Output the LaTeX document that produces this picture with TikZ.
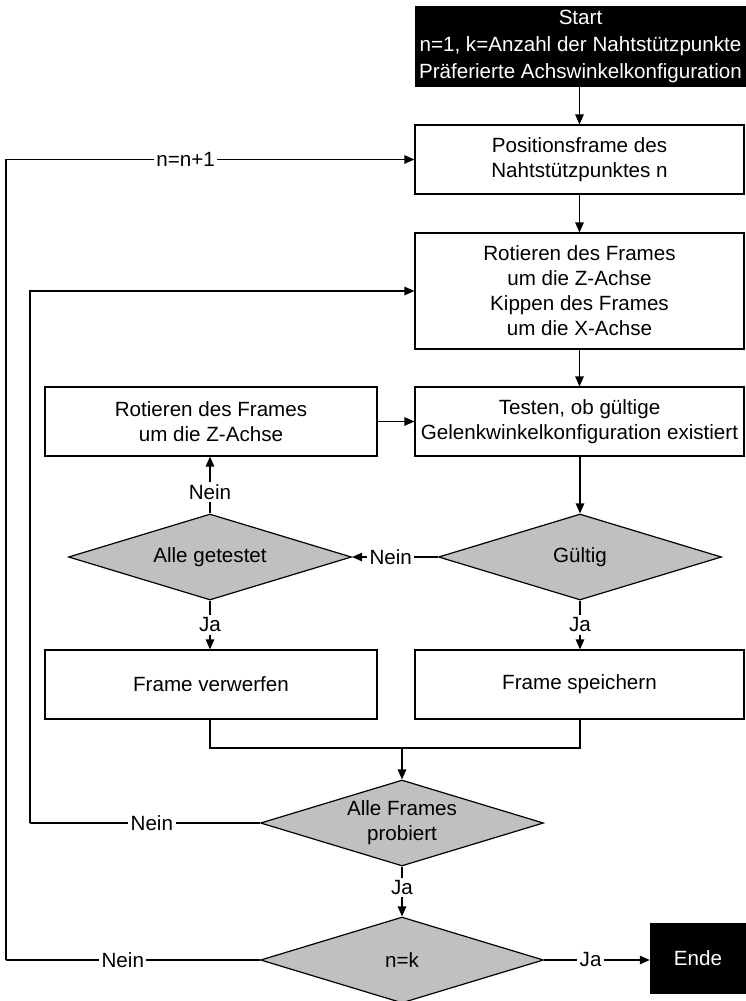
\documentclass[tikz,border=0pt]{standalone}
\usepackage{fontspec}
\setmainfont{Liberation Sans}
\usetikzlibrary{shapes.geometric,arrows.meta}
\definecolor{dgray}{HTML}{C0C0C0}
\begin{document}
\begin{tikzpicture}[x=1pt,y=-1pt,
  font=\fontsize{20.6}{25}\selectfont,
  every node/.style={align=center},
  boxnode/.style={draw=black,line width=1.2pt,fill=white,inner sep=0pt,minimum height=69pt},
  termnode/.style={draw=black,fill=black,text=white,inner sep=0pt},
  decnode/.style={draw=black,line width=1.2pt,fill=dgray,shape=diamond,aspect=3.3,inner sep=0pt,minimum width=283pt,minimum height=86pt},
  conn/.style={line width=1.3pt,draw=black},
  arr/.style={conn,-{Triangle[length=10pt,width=8.5pt]}},
  lbl/.style={fill=white,inner sep=2.5pt}]
\path[use as bounding box] (0,0) rectangle (746,1001);

\node[termnode,minimum width=331pt,minimum height=80pt,font=\fontsize{20.6}{27}\selectfont] (start) at (580.5,46) {Start\\n=1, k=Anzahl der Nahtstützpunkte\\Präferierte Achswinkelkonfiguration};
\node[boxnode,minimum width=329pt] (pos) at (579.5,159.5) {Positionsframe des\\Nahtstützpunktes n};
\node[boxnode,minimum width=329pt,minimum height=116pt] (rot) at (579.5,291) {Rotieren des Frames\\ um die Z-Achse\\Kippen des Frames\\ um die X-Achse};
\node[boxnode,minimum width=329pt] (test) at (579.5,421.5) {Testen, ob gültige\\Gelenkwinkelkonfiguration existiert};
\node[boxnode,minimum width=332pt] (rotl) at (211,421.5) {Rotieren des Frames\\um die Z-Achse};
\node[decnode] (gue) at (580,557) {Gültig};
\node[decnode] (alle) at (210,557) {Alle getestet};
\node[boxnode,minimum width=332pt] (verw) at (211,684.5) {Frame verwerfen};
\node[boxnode,minimum width=329pt] (spei) at (579.5,684.5) {Frame speichern};
\node[decnode] (af) at (402,823) {Alle Frames\\probiert};
\node[decnode] (nk) at (402,960) {n=k};
\node[termnode,minimum width=96pt,minimum height=70pt] (ende) at (698,958) {Ende};

\coordinate (j) at (402,748);
\coordinate (l1a) at (30,823);
\coordinate (l1b) at (30,291);
\coordinate (l2a) at (6,960);
\coordinate (l2b) at (6,159.5);

\draw[arr] (start.south -| pos.north) -- (pos.north);
\draw[arr] (pos.south) -- (rot.north);
\draw[arr] (rot.south) -- (test.north);
\draw[arr] (rotl.east) -- (test.west);
\draw[arr] (test.south -| gue.north) -- (gue.north);
\draw[arr] (gue.west) -- node[lbl,pos=0.55]{Nein} (alle.east);
\draw[arr] (alle.north) -- node[lbl,pos=0.38]{Nein} (alle.north |- rotl.south);
\draw[arr] (alle.south) -- node[lbl,pos=0.5]{Ja} (alle.south |- verw.north);
\draw[arr] (gue.south) -- node[lbl,pos=0.5]{Ja} (gue.south |- spei.north);
\draw[conn] (verw.south -| alle.south) |- (j);
\draw[conn] (spei.south -| gue.south) |- (j);
\draw[arr] (j) -- (af.north);
\draw[conn] (af.west) -- node[lbl,pos=0.47]{Nein} (l1a);
\draw[arr] (l1a) -- (l1b) -- (rot.west);
\draw[arr] (af.south) -- node[lbl,pos=0.42]{Ja} (nk.north);
\draw[conn] (nk.west) -- node[lbl,pos=0.54]{Nein} (l2a);
\draw[arr] (l2a) -- (l2b) -- node[lbl,pos=0.44]{n=n+1} (pos.west);
\draw[arr] (nk.east) -- node[lbl,pos=0.44]{Ja} (nk.east -| ende.west);
\end{tikzpicture}
\end{document}
